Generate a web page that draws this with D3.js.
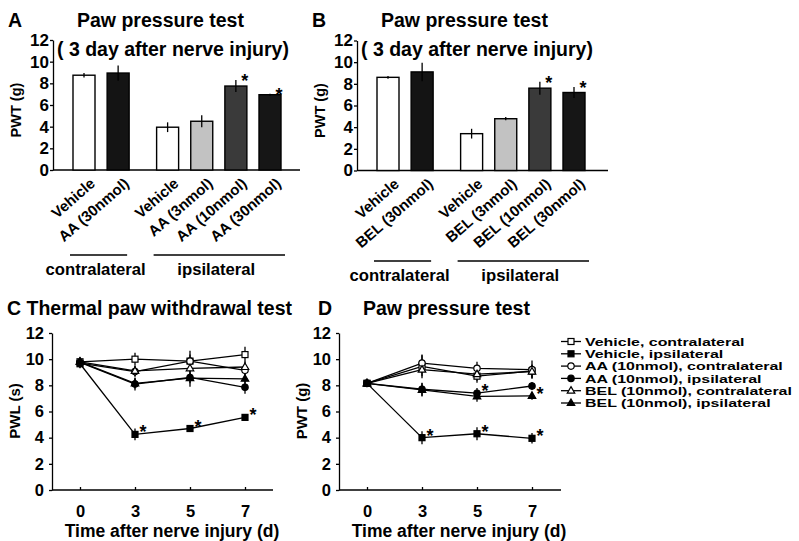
<!DOCTYPE html>
<html><head><meta charset="utf-8">
<script src="https://cdn.jsdelivr.net/npm/d3@7"></script>
<style>
body{margin:0;background:#fff}
svg{display:block}
text{font-family:"Liberation Sans",Arial,Helvetica,sans-serif;font-weight:bold;fill:#000}
</style>
</head><body>
<svg id="chart" width="799" height="541"></svg>
<script>
// ---------------- DATA ----------------
const groupNames = ["contralateral", "ipsilateral"];
const barGroups = [0, 0, 1, 1, 1, 1];
const yTicksBar = [0, 2, 4, 6, 8, 10, 12];

const barLabelsA = ["Vehicle", "AA (30nmol)", "Vehicle", "AA (3nmol)", "AA (10nmol)", "AA (30nmol)"];
const barValsA = [8.75, 8.95, 3.95, 4.5, 7.75, 6.95];
const barErrA = [0.2, 0.7, 0.45, 0.55, 0.55, 0.1];
const barSigA = [false, false, false, false, true, true];

const barLabelsB = ["Vehicle", "BEL (30nmol)", "Vehicle", "BEL (3nmol)", "BEL (10nmol)", "BEL (30nmol)"];
const barValsB = [8.6, 9.1, 3.4, 4.78, 7.6, 7.2];
const barErrB = [0.12, 0.85, 0.45, 0.15, 0.6, 0.5];
const barSigB = [false, false, false, false, true, true];

const days = ["0", "3", "5", "7"];
const yTicksLine = [0, 2, 4, 6, 8, 10, 12];
const seriesNames = ["Vehicle, contralateral", "Vehicle, ipsilateral", "AA (10nmol), contralateral",
  "AA (10nmol), ipsilateral", "BEL (10nmol), contralateral", "BEL (10nmol), ipsilateral"];

// Panel C (PWL, s)
const cVehContra = [9.8, 10.0, 9.85, 10.35];
const cVehContraErr = [0.3, 0.5, 0.5, 0.6];
const cVehIpsi = [9.65, 4.25, 4.7, 5.55];
const cVehIpsiErr = [0.3, 0.45, 0.25, 0.15];
const cAAContra = [9.7, 9.05, 9.85, 9.15];
const cAAContraErr = [0.4, 0.4, 0.8, 0.5];
const cAAIpsi = [9.75, 8.1, 8.6, 7.85];
const cAAIpsiErr = [0.3, 0.5, 0.7, 0.5];
const cBELContra = [9.8, 9.1, 9.3, 9.4];
const cBELContraErr = [0.3, 0.4, 0.4, 0.4];
const cBELIpsi = [9.8, 8.15, 8.55, 8.5];
const cBELIpsiErr = [0.3, 0.4, 0.4, 0.4];
const cVehIpsiSig = [false, true, true, true];

// Panel D (PWT, g)
const dVehContra = [8.15, 9.45, 8.7, 9.1];
const dVehContraErr = [0.2, 0.9, 0.5, 0.5];
const dVehIpsi = [8.15, 4.0, 4.3, 3.95];
const dVehIpsiErr = [0.2, 0.5, 0.5, 0.4];
const dAAContra = [8.15, 9.7, 9.3, 9.2];
const dAAContraErr = [0.2, 0.6, 0.5, 0.7];
const dAAIpsi = [8.15, 7.7, 7.4, 7.95];
const dAAIpsiErr = [0.2, 0.5, 0.4, 0.3];
const dBELContra = [8.15, 9.2, 8.85, 9.05];
const dBELContraErr = [0.2, 0.5, 0.5, 0.5];
const dBELIpsi = [8.15, 7.65, 7.15, 7.2];
const dBELIpsiErr = [0.2, 0.5, 0.4, 0.3];
const dVehIpsiSig = [false, true, true, true];
const dAAIpsiSig = [false, false, true, false];
const dBELIpsiSig = [false, false, false, true];

// ---------------- STYLE ----------------
const barFills = ["#ffffff", "#141414", "#ffffff", "#c2c2c2", "#3a3a3a", "#161616"];
const markerStyles = [
  {shape: "square", fill: "#fff"}, {shape: "square", fill: "#000"},
  {shape: "circle", fill: "#fff"}, {shape: "circle", fill: "#000"},
  {shape: "triangle", fill: "#fff"}, {shape: "triangle", fill: "#000"}
];

const svg = d3.select("#chart");

function drawMarker(g, x, y, st) {
  if (st.shape === "square") {
    g.append("rect").attr("x", x - 3).attr("y", y - 3).attr("width", 6).attr("height", 6)
      .attr("fill", st.fill).attr("stroke", "#000").attr("stroke-width", 1.2);
  } else if (st.shape === "circle") {
    g.append("circle").attr("cx", x).attr("cy", y).attr("r", 3.2)
      .attr("fill", st.fill).attr("stroke", "#000").attr("stroke-width", 1.2);
  } else {
    const s = 7.5, h = s * 0.87;
    g.append("path").attr("d", `M${x},${y - h * 0.62}L${x + s / 2},${y + h * 0.38}L${x - s / 2},${y + h * 0.38}Z`)
      .attr("fill", st.fill).attr("stroke", "#000").attr("stroke-width", 1.2);
  }
}

// ---------------- BAR PANELS ----------------
function drawBarPanel(o) {
  const g = svg.append("g");
  const y = d3.scaleLinear().domain([0, 12]).range([o.y0, o.y0 - 130]);
  const slot = barGroups.map((gr, i) => i + (gr === 1 ? 0.45 : 0));
  const x = d3.scaleLinear().domain([0, d3.max(slot)]).range([o.ox + 31, o.ox + 217]);
  const bw = 22;

  g.append("g").attr("transform", `translate(${o.ox},0)`)
    .call(d3.axisLeft(y).tickValues(yTicksBar).tickSize(3).tickSizeOuter(0).tickPadding(1).tickFormat(d3.format("d")))
    .call(a => a.selectAll("text").attr("font-size", 17).style("font-family", "'Liberation Sans',Arial,sans-serif").style("font-weight", "bold"))
    .call(a => a.selectAll("line,path").attr("stroke", "#000").attr("stroke-width", 1.3));
  g.append("line").attr("x1", o.ox).attr("x2", o.ox + o.axisLen).attr("y1", y(0)).attr("y2", y(0))
    .attr("stroke", "#000").attr("stroke-width", 1.3);

  o.vals.forEach((v, i) => {
    const cx = x(slot[i]);
    g.append("rect").attr("x", cx - bw / 2).attr("y", y(v)).attr("width", bw).attr("height", y(0) - y(v))
      .attr("fill", barFills[i]).attr("stroke", "#000").attr("stroke-width", 1.4);
    g.append("line").attr("x1", cx).attr("x2", cx).attr("y1", y(v - o.errs[i])).attr("y2", y(v + o.errs[i]))
      .attr("stroke", "#000").attr("stroke-width", 1.3);
    if (o.sig[i]) {
      g.append("text").attr("x", cx + 9).attr("y", y(v + o.errs[i]) + 7).attr("text-anchor", "middle")
        .attr("font-size", 18).text("*");
    }
    g.append("text").attr("text-anchor", "end").attr("font-size", 15)
      .attr("transform", `translate(${cx + 12},${o.y0 + 15}) rotate(-41)`).text(o.labels[i]);
  });

  groupNames.forEach((name, gi) => {
    const idx = barGroups.map((gr, i) => gr === gi ? i : -1).filter(i => i >= 0);
    const x1 = x(slot[idx[0]]) - 14, x2 = x(slot[idx[idx.length - 1]]) + (gi === 0 ? 9 : 15);
    g.append("line").attr("x1", x1).attr("x2", x2).attr("y1", o.gy).attr("y2", o.gy)
      .attr("stroke", "#000").attr("stroke-width", 1.3);
    g.append("text").attr("x", (x1 + x2) / 2 - 3).attr("y", o.gy + 20).attr("text-anchor", "middle")
      .attr("font-size", 16.7).text(name);
  });

  g.append("text").attr("transform", `translate(${o.ox - 32},${o.y0 - 60}) rotate(-90)`)
    .attr("text-anchor", "middle").attr("font-size", 14.5).text("PWT (g)");
  g.append("text").attr("x", o.ox - 45).attr("y", 27).attr("font-size", 19.5).text(o.letter);
  g.append("text").attr("x", o.ox + 24).attr("y", 27).attr("font-size", 19.5).text("Paw pressure test");
  g.append("text").attr("x", o.ox + 4).attr("y", 56).attr("font-size", 19.5).text("( 3 day after nerve injury)");
}

drawBarPanel({ox: 53, y0: 170, axisLen: 247, labels: barLabelsA, vals: barValsA, errs: barErrA, sig: barSigA, letter: "A", gy: 255});
drawBarPanel({ox: 357, y0: 170.5, axisLen: 251, labels: barLabelsB, vals: barValsB, errs: barErrB, sig: barSigB, letter: "B", gy: 261});

// ---------------- LINE PANELS ----------------
function drawLinePanel(o) {
  const g = svg.append("g");
  const y = d3.scaleLinear().domain([0, 12]).range([490, 333]);
  const x = d3.scalePoint().domain(days).range([o.ox + 28, o.ox + 193]);

  g.append("g").attr("transform", `translate(${o.ox},0)`)
    .call(d3.axisLeft(y).tickValues(yTicksLine).tickSize(3).tickSizeOuter(0).tickPadding(5).tickFormat(d3.format("d")))
    .call(a => a.selectAll("text").attr("font-size", 16.5).style("font-family", "'Liberation Sans',Arial,sans-serif").style("font-weight", "bold"))
    .call(a => a.selectAll("line,path").attr("stroke", "#000").attr("stroke-width", 1.3));
  g.append("g").attr("transform", `translate(0,${y(0)})`)
    .call(d3.axisBottom(x).tickSize(-3).tickSizeOuter(0).tickPadding(15))
    .call(a => a.select(".domain").remove())
    .call(a => a.selectAll("text").attr("font-size", 16.5).attr("dy", null).attr("y", 27)
      .style("font-family", "'Liberation Sans',Arial,sans-serif").style("font-weight", "bold"))
    .call(a => a.selectAll("line").attr("stroke", "#000").attr("stroke-width", 1.3));
  g.append("line").attr("x1", o.ox).attr("x2", o.ox + o.axisLen).attr("y1", y(0)).attr("y2", y(0))
    .attr("stroke", "#000").attr("stroke-width", 1.3);

  const line = d3.line().x((d, i) => x(days[i])).y(d => y(d));
  o.series.forEach(s => {
    g.append("path").attr("d", line(s.vals)).attr("fill", "none").attr("stroke", "#000").attr("stroke-width", 1.3);
  });
  o.series.forEach(s => {
    s.vals.forEach((v, i) => {
      g.append("line").attr("x1", x(days[i])).attr("x2", x(days[i])).attr("y1", y(v - s.errs[i])).attr("y2", y(v + s.errs[i]))
        .attr("stroke", "#000").attr("stroke-width", 1.3);
    });
  });
  o.series.forEach(s => {
    s.vals.forEach((v, i) => {
      drawMarker(g, x(days[i]), y(v), markerStyles[s.style]);
      if (s.sig && s.sig[i]) {
        g.append("text").attr("x", x(days[i]) + 8).attr("y", y(v) + 4).attr("text-anchor", "middle")
          .attr("font-size", 18).text("*");
      }
    });
  });

  g.append("text").attr("transform", `translate(${o.ox - 32},${411}) rotate(-90)`)
    .attr("text-anchor", "middle").attr("font-size", 15).text(o.ylabel);
  g.append("text").attr("x", o.ox + 120).attr("y", 536.5).attr("text-anchor", "middle")
    .attr("font-size", 17.5).text("Time after nerve injury (d)");
  o.titles.forEach(t => g.append("text").attr("x", t.x).attr("y", 315).attr("font-size", 19.5).text(t.text));
}

drawLinePanel({
  ox: 52, axisLen: 221, ylabel: "PWL (s)",
  titles: [{x: 7, text: "C Thermal paw withdrawal test"}],
  series: [
    {vals: cVehContra, errs: cVehContraErr, style: 0},
    {vals: cVehIpsi, errs: cVehIpsiErr, style: 1, sig: cVehIpsiSig},
    {vals: cAAContra, errs: cAAContraErr, style: 2},
    {vals: cAAIpsi, errs: cAAIpsiErr, style: 3},
    {vals: cBELContra, errs: cBELContraErr, style: 4},
    {vals: cBELIpsi, errs: cBELIpsiErr, style: 5}
  ]
});
drawLinePanel({
  ox: 339, axisLen: 222, ylabel: "PWT (g)",
  titles: [{x: 318, text: "D"}, {x: 363, text: "Paw pressure test"}],
  series: [
    {vals: dVehContra, errs: dVehContraErr, style: 0},
    {vals: dVehIpsi, errs: dVehIpsiErr, style: 1, sig: dVehIpsiSig},
    {vals: dAAContra, errs: dAAContraErr, style: 2},
    {vals: dAAIpsi, errs: dAAIpsiErr, style: 3, sig: dAAIpsiSig},
    {vals: dBELContra, errs: dBELContraErr, style: 4},
    {vals: dBELIpsi, errs: dBELIpsiErr, style: 5, sig: dBELIpsiSig}
  ]
});

// ---------------- LEGEND ----------------
const leg = svg.append("g");
seriesNames.forEach((name, i) => {
  const ly = 341.5 + i * 12.3;
  leg.append("line").attr("x1", 561).attr("x2", 581).attr("y1", ly).attr("y2", ly).attr("stroke", "#000").attr("stroke-width", 1.3);
  drawMarker(leg, 571, ly, markerStyles[i]);
  leg.append("text").attr("transform", `translate(585,${ly + 4.2}) scale(1.45,1)`).attr("font-size", 11).text(name);
});
</script>
</body></html>
